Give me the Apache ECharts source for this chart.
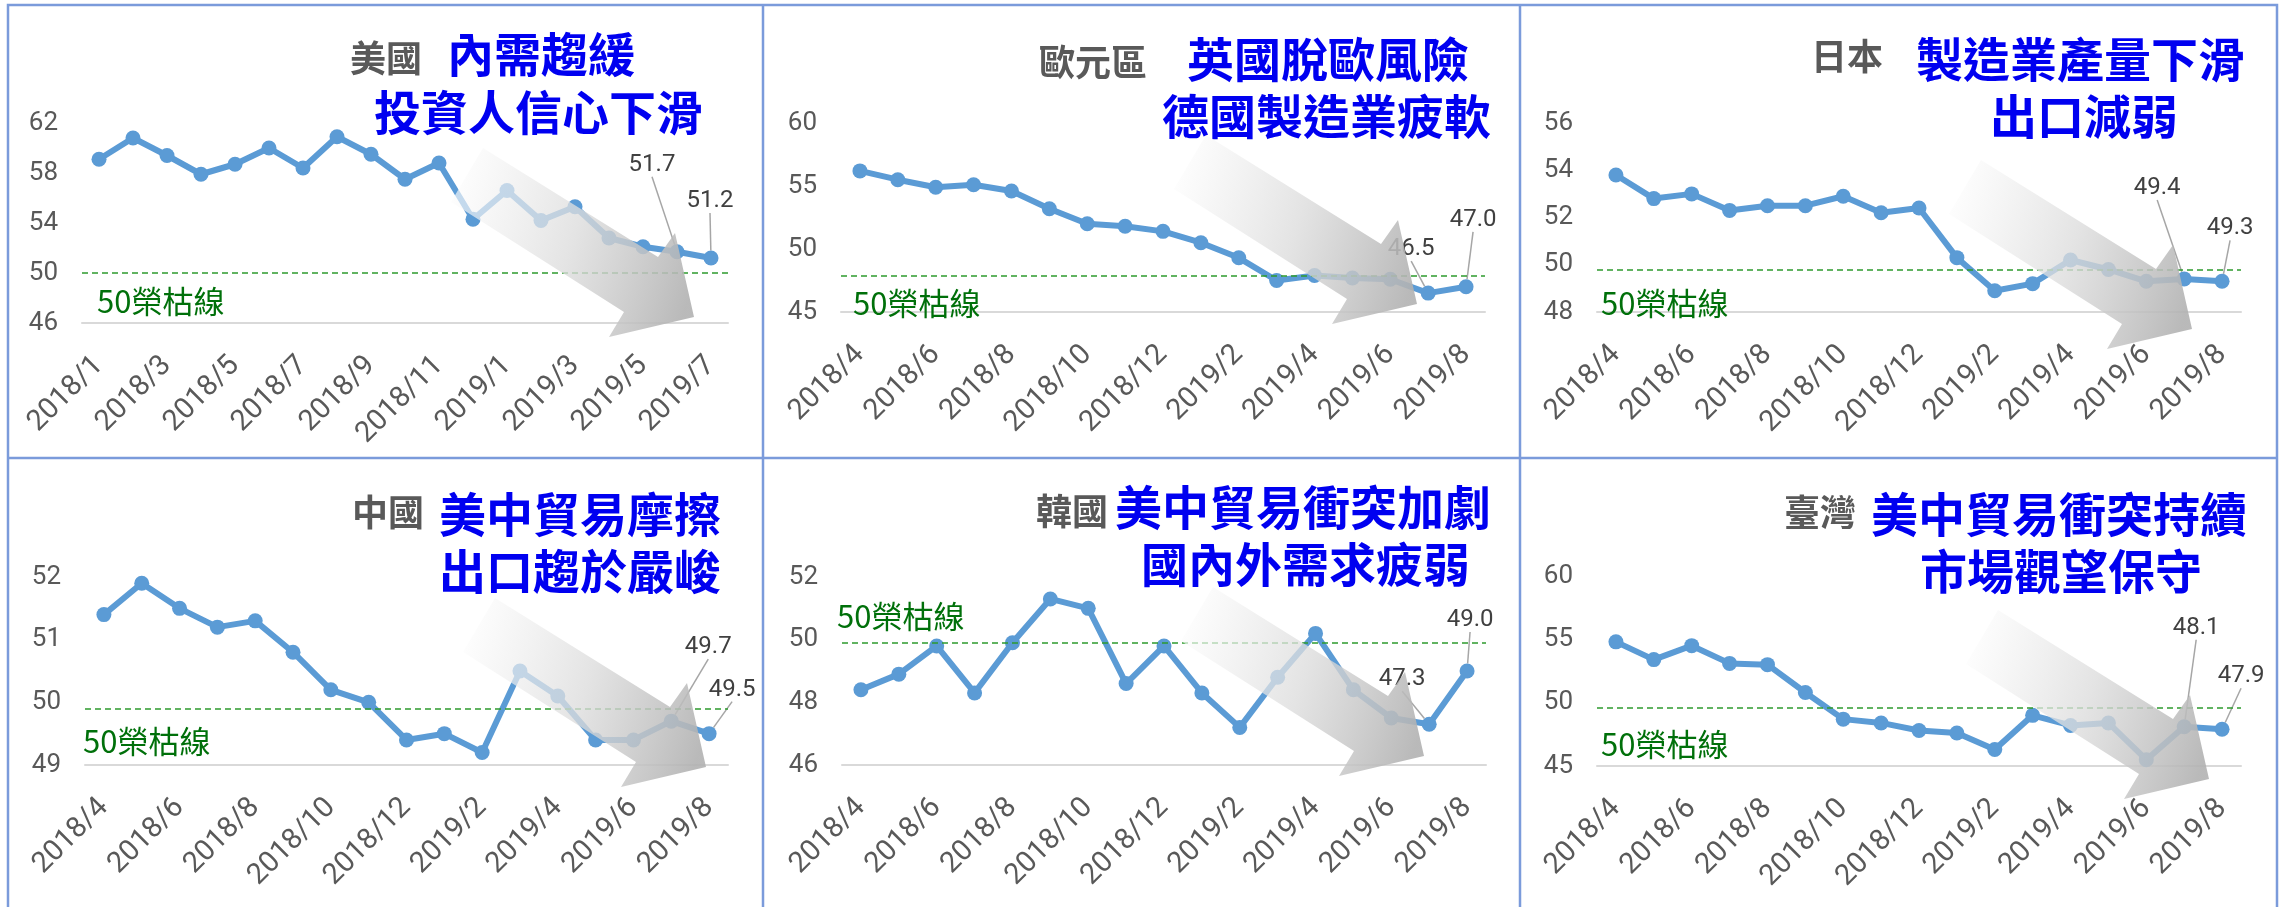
<!DOCTYPE html>
<html>
<head>
<meta charset="utf-8">
<title>PMI</title>
<script src="https://cdn.jsdelivr.net/npm/echarts@6/dist/echarts.min.js"></script>
<style>
  html, body { margin: 0; padding: 0; background: #fff; }
  #chart { width: 2282px; height: 907px; }
</style>
</head>
<body>
<div id="chart"></div>
<script>
// 月份
const usMonths = ['2018/1', '2018/2', '2018/3', '2018/4', '2018/5', '2018/6', '2018/7', '2018/8', '2018/9', '2018/10',
  '2018/11', '2018/12', '2019/1', '2019/2', '2019/3', '2019/4', '2019/5', '2019/6', '2019/7']
const otherMonths = ['2018/4', '2018/5', '2018/6', '2018/7', '2018/8', '2018/9', '2018/10', '2018/11', '2018/12',
  '2019/1', '2019/2', '2019/3', '2019/4', '2019/5', '2019/6', '2019/7', '2019/8']

// PMI 數值
const usPmi = [59.1, 60.8, 59.4, 57.9, 58.7, 60.0, 58.4, 60.9, 59.5, 57.5, 58.8, 54.3, 56.6, 54.2, 55.3, 52.8, 52.1, 51.7, 51.2]
const euroPmi = [56.2, 55.5, 54.9, 55.1, 54.6, 53.2, 52.0, 51.8, 51.4, 50.5, 49.3, 47.5, 47.9, 47.7, 47.6, 46.5, 47.0]
const japanPmi = [53.8, 52.8, 53.0, 52.3, 52.5, 52.5, 52.9, 52.2, 52.4, 50.3, 48.9, 49.2, 50.2, 49.8, 49.3, 49.4, 49.3]
const chinaPmi = [51.4, 51.9, 51.5, 51.2, 51.3, 50.8, 50.2, 50.0, 49.4, 49.5, 49.2, 50.5, 50.1, 49.4, 49.4, 49.7, 49.5]
const koreaPmi = [48.4, 48.9, 49.8, 48.3, 49.9, 51.3, 51.0, 48.6, 49.8, 48.3, 47.2, 48.8, 50.2, 48.4, 47.5, 47.3, 49.0]
const taiwanPmi = [54.8, 53.4, 54.5, 53.1, 53.0, 50.8, 48.7, 48.4, 47.8, 47.6, 46.3, 49.0, 48.2, 48.4, 45.5, 48.1, 47.9]

// y 軸刻度 [min, max, interval]
const usTicks = [46, 62, 4]
const euroTicks = [45, 60, 5]
const japanTicks = [48, 56, 2]
const chinaTicks = [49, 52, 1]
const koreaTicks = [46, 52, 2]
const taiwanTicks = [45, 60, 5]

// 榮枯線（依圖上位置）
const boomBustLevels = [50, 47.9, 49.8, 49.9, 49.9, 49.6]

// 標題
const countryNames = ['美國', '歐元區', '日本', '中國', '韓國', '臺灣']
const headlines1 = ['內需趨緩', '英國脫歐風險', '製造業產量下滑', '美中貿易摩擦', '美中貿易衝突加劇', '美中貿易衝突持續']
const headlines2 = ['投資人信心下滑', '德國製造業疲軟', '出口減弱', '出口趨於嚴峻', '國內外需求疲弱', '市場觀望保守']

const FONT = '"Noto Sans CJK TC", "Noto Sans", sans-serif'
const NUM_FONT = 'Roboto, "Noto Sans", sans-serif'
const LINE_COLOR = '#5b9bd5'

// 版面（每個面板的局部座標）
const panels = [
  { months: usMonths, values: usPmi, ticks: usTicks, ox: 0, oy: 0, grid: [82, 123, 728, 323],
    labels: { 17: [-25, -87], 18: [-1, -57] }, gray: [350, 58], t1: [447, 54], t2: [374, 112], tag: [97, 301], arrow: [483, 148] },
  { months: otherMonths, values: euroPmi, ticks: euroTicks, ox: 762, oy: 0, grid: [79, 123, 723, 312],
    labels: { 15: [-17, -44], 16: [7, -67] }, gray: [277, 62], t1: [425, 59], t2: [400, 116], tag: [91, 303], arrow: [444, 135] },
  { months: otherMonths, values: japanPmi, ticks: japanTicks, ox: 1522, oy: 0, grid: [75, 123, 719, 312],
    labels: { 15: [-27, -91], 16: [8, -53] }, gray: [289, 56], t1: [394, 59], t2: [468, 116], tag: [79, 303], arrow: [459, 160] },
  { months: otherMonths, values: chinaPmi, ticks: chinaTicks, ox: 0, oy: 455, grid: [85, 122, 728, 310],
    labels: { 15: [37, -74], 16: [23, -44] }, gray: [352, 57], t1: [439, 59], t2: [439, 116], tag: [83, 286], arrow: [495, 143] },
  { months: otherMonths, values: koreaPmi, ticks: koreaTicks, ox: 762, oy: 455, grid: [80, 122, 724, 310],
    labels: { 15: [-27, -45], 16: [3, -51] }, gray: [274, 56], t1: [353, 52], t2: [379, 109], tag: [75, 161], arrow: [451, 132] },
  { months: otherMonths, values: taiwanPmi, ticks: taiwanTicks, ox: 1522, oy: 455, grid: [75, 121, 719, 311],
    labels: { 15: [12, -99], 16: [19, -53] }, gray: [262, 57], t1: [349, 59], t2: [398, 116], tag: [79, 289], arrow: [476, 155] }
]

// 箭頭形狀（相對於尾端上角）
const arrowShape = [[0, 0], [175, 109], [192, 85], [211, 169], [126, 189], [141, 164], [-32, 54]]

const chart = echarts.init(document.getElementById('chart'), null, { renderer: 'canvas' })

const grids = []
const xAxes = []
const yAxes = []
const series = []
const graphics = []

panels.forEach((p, i) => {
  const [l, t, r, b] = p.grid
  grids.push({ left: p.ox + l, top: p.oy + t, width: r - l, height: b - t })

  xAxes.push({
    type: 'category',
    gridIndex: i,
    data: p.months,
    boundaryGap: true,
    axisLine: { lineStyle: { color: '#d9d9d9', width: 2 } },
    axisTick: { show: false },
    splitLine: { show: false },
    axisLabel: { interval: 1, rotate: 45, margin: 38, fontSize: 29, color: '#595959', fontFamily: NUM_FONT }
  })

  yAxes.push({
    type: 'value',
    gridIndex: i,
    min: p.ticks[0],
    max: p.ticks[1],
    interval: p.ticks[2],
    axisLine: { show: false },
    axisTick: { show: false },
    splitLine: { show: false },
    axisLabel: { fontSize: 26, color: '#595959', margin: 24, fontFamily: NUM_FONT }
  })

  series.push({
    type: 'line',
    xAxisIndex: i,
    yAxisIndex: i,
    data: p.values.map((v, j) => (p.labels[j] ? { value: v, label: { show: true } } : v)),
    symbol: 'circle',
    symbolSize: 15,
    lineStyle: { width: 6, color: LINE_COLOR },
    itemStyle: { color: LINE_COLOR },
    label: {
      show: false,
      formatter: (params) => Number(params.value).toFixed(1),
      fontSize: 24,
      color: '#404040',
      fontFamily: NUM_FONT
    },
    labelLine: { show: true, lineStyle: { color: '#a6a6a6', width: 1.5 } },
    labelLayout: (params) => {
      const off = p.labels[params.dataIndex]
      if (!off) return {}
      const cx = params.rect.x + params.rect.width / 2
      const cy = params.rect.y + params.rect.height / 2
      return { x: cx + off[0], y: cy + off[1], align: 'center', verticalAlign: 'middle' }
    },
    markLine: {
      silent: true,
      symbol: 'none',
      label: { show: false },
      lineStyle: { color: '#2e9a2e', type: [6, 4], width: 1.5 },
      data: [{ yAxis: boomBustLevels[i] }]
    },
    animation: false,
    z: 3
  })

  // 標題
  graphics.push({
    type: 'text', x: p.ox + p.gray[0], y: p.oy + p.gray[1], z: 50,
    style: { text: countryNames[i], fontSize: 36, fontWeight: 'bold', fontFamily: FONT, fill: '#595959', align: 'left', verticalAlign: 'middle' }
  })
  graphics.push({
    type: 'text', x: p.ox + p.t1[0], y: p.oy + p.t1[1], z: 50,
    style: { text: headlines1[i], fontSize: 47, fontWeight: 'bold', fontFamily: FONT, fill: '#0000f0', align: 'left', verticalAlign: 'middle' }
  })
  graphics.push({
    type: 'text', x: p.ox + p.t2[0], y: p.oy + p.t2[1], z: 50,
    style: { text: headlines2[i], fontSize: 47, fontWeight: 'bold', fontFamily: FONT, fill: '#0000f0', align: 'left', verticalAlign: 'middle' }
  })
  // 榮枯線標示
  graphics.push({
    type: 'text', x: p.ox + p.tag[0], y: p.oy + p.tag[1], z: 50,
    style: { text: '50榮枯線', fontSize: 31, fontFamily: FONT, fill: '#00700a', align: 'left', verticalAlign: 'middle' }
  })
  // 趨勢箭頭
  const ax = p.ox + p.arrow[0]
  const ay = p.oy + p.arrow[1]
  graphics.push({
    type: 'polygon',
    z: 100,
    shape: { points: arrowShape.map(([dx, dy]) => [ax + dx, ay + dy]) },
    style: {
      fill: new echarts.graphic.LinearGradient(0, 0.3, 1, 0.7, [
        { offset: 0, color: 'rgba(252,252,252,0.65)' },
        { offset: 0.5, color: 'rgba(220,220,220,0.78)' },
        { offset: 1, color: 'rgba(178,178,178,0.9)' }
      ])
    }
  })
})

// 面板框線
const borderStyle = { stroke: '#7b9bdb', lineWidth: 2.5 }
graphics.push({ type: 'rect', z: 120, shape: { x: 8, y: 5, width: 2269, height: 912 }, style: Object.assign({ fill: 'none' }, borderStyle) })
graphics.push({ type: 'line', z: 120, shape: { x1: 763, y1: 5, x2: 763, y2: 907 }, style: borderStyle })
graphics.push({ type: 'line', z: 120, shape: { x1: 1520, y1: 5, x2: 1520, y2: 907 }, style: borderStyle })
graphics.push({ type: 'line', z: 120, shape: { x1: 8, y1: 458, x2: 2277, y2: 458 }, style: borderStyle })

chart.setOption({
  animation: false,
  backgroundColor: '#ffffff',
  grid: grids,
  xAxis: xAxes,
  yAxis: yAxes,
  series: series,
  graphic: { elements: graphics }
})
</script>
</body>
</html>
